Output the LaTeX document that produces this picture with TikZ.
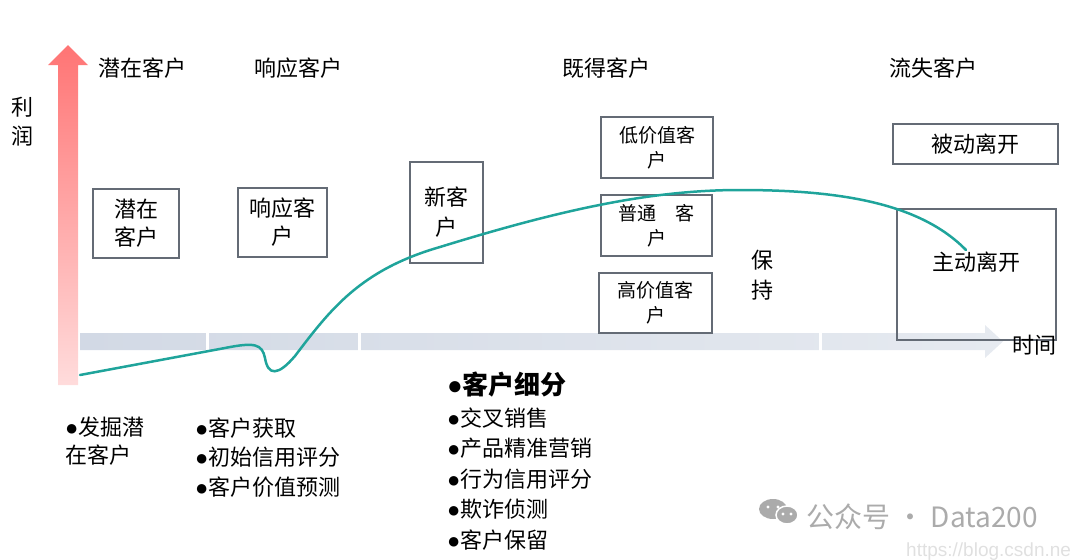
\documentclass[tikz,border=0pt]{standalone}
\usepackage{fontspec}
\setmainfont{Noto Sans CJK SC}
\newfontfamily\bulfont{Liberation Sans}
\usetikzlibrary{positioning}
\definecolor{curvegreen}{HTML}{1FA49B}
\definecolor{boxgray}{HTML}{646B75}
\definecolor{axisred}{HTML}{FF7474}
\definecolor{axispink}{HTML}{FFDCDC}
\definecolor{barblue}{HTML}{D2D9E5}
\definecolor{barlight}{HTML}{E6EAF0}
\definecolor{markgray}{HTML}{ABABAB}
\newcommand{\bul}{{\bulfont ●}}

\begin{document}
\begin{tikzpicture}[
  x=1pt,y=-1pt,
  stagebox/.style={rectangle,draw=boxgray,line width=1.5pt,align=center,inner sep=0pt},
  bigtext/.style={font=\fontsize{22}{28}\selectfont},
  smalltext/.style={font=\fontsize{19}{25}\selectfont},
  stagelabel/.style={font=\fontsize{22}{29}\selectfont,align=center,inner sep=0pt},
  listtext/.style={font=\fontsize{22}{30}\selectfont,align=left,anchor=west,inner sep=0pt}
]
\useasboundingbox (0,0) rectangle (1080,560);

% axes
\shade[top color=axisred,bottom color=axispink] (58,385) -- (58,65) -- (48,65) -- (68,45) -- (88,65) -- (78,65) -- (78,385) -- cycle;
\shade[left color=barblue,right color=barlight] (80,333) -- (985,333) -- (985,325) -- (1003,341.5) -- (985,358) -- (985,350) -- (80,350) -- cycle;
\foreach \sx in {207,359,820}
  \draw[white,line width=3pt] (\sx,331) -- (\sx,352);

\node[stagelabel] (ylab) at (23,122) {利\\润};

% stages
\node[stagelabel] (hpot) at (142,68) {潜在客户};
\node[stagelabel] (hresp) at (298,68) {响应客户};
\node[stagelabel] (hgot) at (606,68) {既得客户};
\node[stagelabel] (hlost) at (933,68) {流失客户};

\node[stagebox,bigtext,minimum width=86pt,minimum height=69pt] (potbox) at (136,223.5) {潜在\\客户};
\node[stagebox,bigtext,minimum width=89pt,minimum height=69pt] (respbox) at (282.5,222.5) {响应客\\户};
\node[stagebox,bigtext,font=\fontsize{22}{30}\selectfont,minimum width=73pt,minimum height=101pt] (newbox) at (446.5,212.5) {新客\\户};
\node[stagebox,smalltext,minimum width=112pt,minimum height=61pt] (lowbox) at (657,147.5) {低价值客\\户};
\node[stagebox,smalltext,minimum width=111pt,minimum height=61pt] (normbox) at (656.5,225.5) {普通\quad 客\\户};
\node[stagebox,smalltext,minimum width=113pt,minimum height=60pt] (highbox) at (655.5,303) {高价值客\\户};
\node[stagelabel,font=\fontsize{22}{30}\selectfont] (keep) at (762,275) {保\\持};
\node[stagebox,bigtext,minimum width=165pt,minimum height=40pt] (passbox) at (975.5,144) {被动离开};
\node[stagebox,minimum width=159pt,minimum height=131pt] (actbox) at (976.5,274.5) {};
\node[bigtext,inner sep=0pt] (acttext) at (976,262) {主动离开};
\node[stagelabel] (xlab) at (1034,345) {时间};

% lists
\node[listtext,font=\fontsize{22}{28}\selectfont] (potlist) at (65,441.5) {\bul 发掘潜\\在客户};
\node[listtext,font=\fontsize{22}{29.5}\selectfont] (resplist) at (195,457.5) {\bul 客户获取\\\bul 初始信用评分\\\bul 客户价值预测};
\node[listtext,font=\bfseries\fontsize{26}{30}\selectfont] (seghead) at (447,385) {\bul 客户细分};
\node[listtext,font=\fontsize{22}{30.5}\selectfont] (seglist) at (447,479) {\bul 交叉销售\\\bul 产品精准营销\\\bul 行为信用评分\\\bul 欺诈侦测\\\bul 客户保留};

% profit curve
\draw[curvegreen,line width=2.5pt,line cap=round] (80,375) -- (225,348)
  .. controls (255,342) and (262,344) .. (265,358)
  .. controls (268,376) and (278,376) .. (295,356)
  .. controls (330,310) and (360,270) .. (440,247)
  .. controls (560,210) and (650,190) .. (740,190)
  .. controls (840,190) and (920,203) .. (966,250);

% watermark
\fill[markgray] (773,509) ellipse [x radius=14, y radius=10];
\fill[markgray,draw=white,line width=1.5pt] (787,515) ellipse [x radius=11, y radius=9];
\foreach \dx/\dy in {768/507,778/507,783/514,791/514}
  \fill[white] (\dx,\dy) circle (1.6);
\node[font=\fontsize{28}{32}\selectfont,text=markgray,anchor=west,inner sep=0pt] (mark) at (806,517) {公众号 · Data200};
\node[font=\bulfont\fontsize{19}{22}\selectfont,text=black!12,anchor=base west,inner sep=0pt] (url) at (906,556) {https://blog.csdn.ne};
\end{tikzpicture}
\end{document}
